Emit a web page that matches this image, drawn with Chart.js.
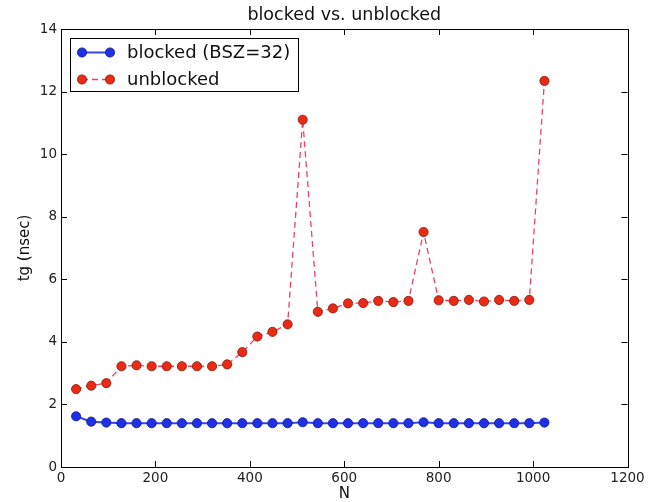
<!DOCTYPE html>
<html>
<head>
<meta charset="utf-8">
<title>blocked vs. unblocked</title>
<script src="https://cdn.jsdelivr.net/npm/chart.js@4"></script>
<style>
  html, body { margin: 0; padding: 0; background: #ffffff; }
  #wrap { width: 651px; height: 502px; }
</style>
</head>
<body>
<div id="wrap"><canvas id="chart" width="651" height="502"></canvas></div>
<script>
// Matrix sizes N and measured time per element (nsec)
const sizes = [32, 64, 96, 128, 160, 192, 224, 256, 288, 320, 352, 384, 416, 448, 480, 512,
               544, 576, 608, 640, 672, 704, 736, 768, 800, 832, 864, 896, 928, 960, 992, 1024];
const blocked = [1.62, 1.45, 1.42, 1.40, 1.40, 1.40, 1.40, 1.40, 1.40, 1.40, 1.40, 1.40, 1.40, 1.40, 1.40, 1.43,
                 1.40, 1.40, 1.40, 1.40, 1.40, 1.40, 1.40, 1.43, 1.40, 1.40, 1.40, 1.40, 1.40, 1.40, 1.40, 1.42];
const unblocked = [2.49, 2.60, 2.68, 3.22, 3.25, 3.22, 3.22, 3.22, 3.22, 3.22, 3.28, 3.67, 4.17, 4.32, 4.56, 11.10,
                   4.96, 5.07, 5.23, 5.24, 5.31, 5.27, 5.31, 7.51, 5.33, 5.31, 5.34, 5.29, 5.34, 5.31, 5.34, 12.34];
const seriesNames = ['blocked (BSZ=32)', 'unblocked'];
const titleText = 'blocked vs. unblocked';
const xLabel = 'N';
const yLabel = 'tg (nsec)';

const FONT = '"DejaVu Sans", "Liberation Sans", sans-serif';
const BLUE_LINE = '#2f45ee', BLUE_FILL = '#1e30ea', BLUE_EDGE = '#101a78';
const RED_LINE = '#f0405f', RED_FILL = '#ec2a14', RED_EDGE = '#7c1a10';
const MARKER_R = 4.6;

const toPoints = ys => sizes.map((n, i) => ({ x: n, y: ys[i] }));

// Frame, inward ticks, title, axis labels and legend box
const decorations = {
  id: 'decorations',
  afterDraw(chart) {
    const { ctx, chartArea: a, scales } = chart;
    const xs = scales.x, ys = scales.y;
    ctx.save();
    ctx.strokeStyle = '#000';
    ctx.lineWidth = 1;
    ctx.strokeRect(Math.round(a.left) + 0.5, Math.round(a.top) + 0.5,
                   Math.round(a.right - a.left), Math.round(a.bottom - a.top));
    const tl = 6;
    ctx.beginPath();
    xs.ticks.forEach(t => {
      const px = Math.round(xs.getPixelForValue(t.value)) + 0.5;
      ctx.moveTo(px, a.bottom); ctx.lineTo(px, a.bottom - tl);
      ctx.moveTo(px, a.top); ctx.lineTo(px, a.top + tl);
    });
    ys.ticks.forEach(t => {
      const py = Math.round(ys.getPixelForValue(t.value)) + 0.5;
      ctx.moveTo(a.left, py); ctx.lineTo(a.left + tl, py);
      ctx.moveTo(a.right, py); ctx.lineTo(a.right - tl, py);
    });
    ctx.stroke();

    // title
    const cx = (a.left + a.right) / 2;
    ctx.fillStyle = '#111';
    ctx.textAlign = 'center';
    ctx.textBaseline = 'middle';
    ctx.font = '17.5px ' + FONT;
    ctx.fillText(titleText, cx, 15);

    // axis labels
    ctx.font = '15px ' + FONT;
    ctx.fillText(xLabel, cx, 494);
    ctx.save();
    ctx.translate(25, (a.top + a.bottom) / 2);
    ctx.rotate(-Math.PI / 2);
    ctx.fillText(yLabel, 0, 0);
    ctx.restore();

    // legend
    const lx = 70.5, ly = 38.5, lw = 228, lh = 53;
    ctx.fillStyle = '#fff';
    ctx.fillRect(lx, ly, lw, lh);
    ctx.strokeStyle = '#000';
    ctx.lineWidth = 1;
    ctx.strokeRect(lx, ly, lw, lh);
    const rows = [
      { y: 52.5, line: BLUE_LINE, fill: BLUE_FILL, edge: BLUE_EDGE, dash: [], lw: 2 },
      { y: 79.5, line: RED_LINE, fill: RED_FILL, edge: RED_EDGE, dash: [6, 4], lw: 1.3 }
    ];
    rows.forEach((r, i) => {
      ctx.strokeStyle = r.line;
      ctx.lineWidth = r.lw;
      ctx.setLineDash(r.dash);
      ctx.beginPath();
      ctx.moveTo(82, r.y); ctx.lineTo(110, r.y);
      ctx.stroke();
      ctx.setLineDash([]);
      [82, 110].forEach(mx => {
        ctx.beginPath();
        ctx.arc(mx, r.y, MARKER_R, 0, Math.PI * 2);
        ctx.fillStyle = r.fill; ctx.fill();
        ctx.lineWidth = 0.8; ctx.strokeStyle = r.edge; ctx.stroke();
      });
      ctx.fillStyle = '#111';
      ctx.textAlign = 'left';
      ctx.textBaseline = 'middle';
      ctx.font = '18px ' + FONT;
      ctx.fillText(seriesNames[i], 127, r.y + 1);
    });
    ctx.restore();
  }
};

const plainTick = v => String(v);

new Chart(document.getElementById('chart'), {
  type: 'line',
  data: {
    datasets: [
      {
        label: seriesNames[0],
        data: toPoints(blocked),
        borderColor: BLUE_LINE,
        borderWidth: 2,
        pointRadius: MARKER_R,
        pointBackgroundColor: BLUE_FILL,
        pointBorderColor: BLUE_EDGE,
        pointBorderWidth: 0.8,
        tension: 0,
        fill: false,
        order: 2
      },
      {
        label: seriesNames[1],
        data: toPoints(unblocked),
        borderColor: RED_LINE,
        borderWidth: 1.3,
        borderDash: [6, 4],
        pointRadius: MARKER_R,
        pointBackgroundColor: RED_FILL,
        pointBorderColor: RED_EDGE,
        pointBorderWidth: 0.8,
        tension: 0,
        fill: false,
        order: 1
      }
    ]
  },
  options: {
    responsive: false,
    animation: false,
    devicePixelRatio: 1,
    layout: { padding: { top: 29, right: 23.5, left: 0, bottom: 0 } },
    plugins: {
      legend: { display: false },
      title: { display: false },
      tooltip: { enabled: false }
    },
    scales: {
      x: {
        type: 'linear',
        min: 0, max: 1200,
        ticks: { stepSize: 200, padding: 3, color: '#222', font: { family: FONT, size: 13.5 }, maxRotation: 0, callback: plainTick },
        grid: { display: false, drawTicks: false },
        border: { display: false },
        afterFit(scale) { scale.height = 35; }
      },
      y: {
        type: 'linear',
        min: 0, max: 14,
        ticks: { stepSize: 2, padding: 4, color: '#222', font: { family: FONT, size: 13.5 }, callback: plainTick },
        grid: { display: false, drawTicks: false },
        border: { display: false },
        afterFit(scale) { scale.width = 61; }
      }
    }
  },
  plugins: [decorations]
});
</script>
</body>
</html>
